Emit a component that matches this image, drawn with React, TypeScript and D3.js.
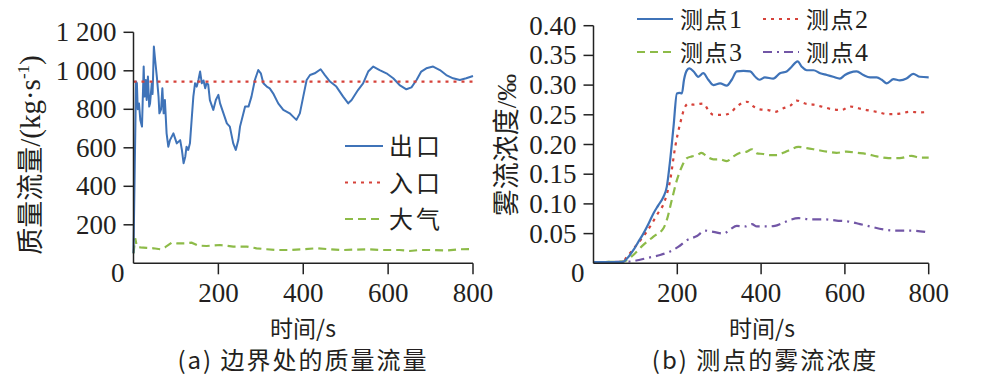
import React, { useEffect, useRef } from "react";
import * as d3 from "d3";

// (a) mass flow at the boundaries
const outletTime = [0, 3, 6, 8, 10, 13, 16, 20, 24, 26, 29, 31, 34, 37, 39, 43, 45, 48, 51, 55, 59, 61, 65, 68, 71, 74, 78, 82, 86, 94, 102, 110, 114, 118, 122, 125, 129, 133, 137, 141, 145, 149, 153, 157, 161, 165, 169, 172, 176, 180, 188, 194, 200, 204, 212, 220, 227, 235, 241, 247, 251, 259, 263, 271, 278, 286, 294, 300, 306, 314, 321, 329, 341, 353, 368, 376, 384, 392, 400, 408, 416, 427, 441, 451, 463, 478, 494, 506, 514, 529, 541, 553, 565, 580, 596, 612, 627, 643, 655, 667, 678, 690, 706, 722, 737, 753, 769, 784, 800];
const outletFlow = [52, 502, 944, 935, 800, 830, 745, 710, 1022, 866, 952, 848, 970, 814, 830, 935, 880, 1126, 1056, 970, 866, 779, 800, 909, 779, 848, 675, 606, 640, 675, 623, 640, 589, 520, 554, 606, 589, 623, 745, 866, 935, 918, 952, 996, 935, 950, 909, 935, 930, 848, 797, 848, 875, 831, 779, 727, 710, 623, 589, 640, 710, 779, 814, 814, 866, 952, 1004, 987, 935, 918, 909, 883, 831, 797, 779, 762, 745, 779, 866, 952, 978, 987, 1008, 978, 944, 918, 866, 831, 848, 900, 935, 996, 1022, 1004, 987, 961, 926, 904, 914, 952, 996, 1013, 1022, 1004, 978, 961, 952, 961, 973];
const inletTime = [0, 800];
const inletFlow = [944, 944];
const airTime = [0, 4, 8, 16, 31, 47, 63, 74, 90, 102, 122, 137, 153, 172, 204, 235, 267, 290, 314, 337, 368, 400, 431, 463, 494, 549, 588, 627, 651, 674, 706, 737, 769, 800];
const airFlow = [52, 130, 87, 83, 80, 78, 73, 83, 107, 104, 104, 107, 92, 90, 95, 87, 87, 78, 73, 69, 69, 73, 78, 73, 69, 73, 69, 69, 64, 69, 69, 66, 73, 74];

// (b) spray concentration at the measuring points
const p1Time = [0, 68, 80, 95, 107, 119, 131, 143, 155, 167, 175, 183, 191, 199, 205, 211, 216, 223, 229, 239, 250, 262, 274, 286, 302, 318, 330, 342, 358, 374, 386, 396, 409, 429, 445, 461, 473, 487, 497, 509, 525, 541, 557, 572, 588, 600, 612, 628, 644, 660, 676, 688, 700, 716, 731, 747, 763, 779, 800];
const p1Conc = [0.002, 0.002, 0.008, 0.022, 0.036, 0.05, 0.066, 0.084, 0.098, 0.112, 0.129, 0.174, 0.23, 0.286, 0.287, 0.286, 0.309, 0.325, 0.328, 0.323, 0.314, 0.32, 0.309, 0.3, 0.303, 0.299, 0.309, 0.323, 0.324, 0.323, 0.314, 0.309, 0.313, 0.311, 0.32, 0.323, 0.331, 0.34, 0.331, 0.325, 0.325, 0.32, 0.317, 0.314, 0.311, 0.317, 0.321, 0.323, 0.317, 0.313, 0.313, 0.309, 0.303, 0.31, 0.308, 0.311, 0.319, 0.314, 0.313];
const p2Time = [0, 68, 80, 103, 127, 151, 171, 183, 195, 207, 219, 227, 239, 250, 262, 274, 286, 310, 326, 342, 366, 382, 397, 417, 433, 453, 469, 485, 505, 525, 549, 572, 592, 612, 632, 652, 676, 704, 731, 755, 779, 800];
const p2Conc = [0.002, 0.002, 0.011, 0.031, 0.053, 0.081, 0.107, 0.14, 0.196, 0.236, 0.264, 0.269, 0.267, 0.268, 0.269, 0.258, 0.25, 0.25, 0.253, 0.264, 0.272, 0.264, 0.259, 0.258, 0.255, 0.261, 0.265, 0.274, 0.269, 0.267, 0.263, 0.259, 0.258, 0.264, 0.261, 0.258, 0.255, 0.251, 0.252, 0.255, 0.254, 0.255];
const p3Time = [0, 72, 95, 119, 143, 167, 175, 187, 199, 211, 223, 235, 247, 258, 270, 286, 302, 318, 334, 350, 366, 378, 390, 405, 421, 437, 453, 469, 489, 509, 533, 557, 580, 604, 628, 652, 676, 704, 731, 759, 779, 800];
const p3Conc = [0.002, 0.003, 0.014, 0.031, 0.045, 0.059, 0.073, 0.107, 0.14, 0.163, 0.177, 0.18, 0.182, 0.186, 0.18, 0.175, 0.175, 0.172, 0.18, 0.186, 0.188, 0.192, 0.185, 0.184, 0.182, 0.182, 0.186, 0.191, 0.196, 0.194, 0.191, 0.188, 0.186, 0.188, 0.186, 0.184, 0.18, 0.177, 0.177, 0.181, 0.178, 0.178];
const p4Time = [0, 87, 111, 135, 159, 183, 203, 223, 247, 266, 286, 310, 326, 342, 362, 378, 390, 413, 433, 449, 469, 489, 517, 549, 580, 612, 636, 660, 692, 723, 755, 800];
const p4Conc = [0.002, 0.003, 0.006, 0.01, 0.014, 0.02, 0.028, 0.039, 0.046, 0.055, 0.053, 0.05, 0.057, 0.063, 0.062, 0.066, 0.062, 0.062, 0.063, 0.067, 0.073, 0.076, 0.074, 0.074, 0.072, 0.07, 0.066, 0.062, 0.057, 0.055, 0.055, 0.052];

const xTicks = [200, 400, 600, 800];
const flowTicks = [200, 400, 600, 800, 1000, 1200];
const flowTickLabels = ["200", "400", "600", "800", "1 000", "1 200"];
const concTicks = [0.05, 0.1, 0.15, 0.2, 0.25, 0.3, 0.35, 0.4];

const leftLegend = ["出口", "入口", "大气"];
const rightLegend = ["测点1", "测点2", "测点3", "测点4"];

const BLUE = "#3f73b8";
const RED = "#d6423a";
const GREEN = "#8dbb48";
const PURPLE = "#7256a6";
const SERIF = "Liberation Serif";
const CJK = "Noto Sans CJK SC";
const INK = "#231f20";

function zip(t: number[], v: number[]) {
  return t.map((d, i) => [d, v[i]] as [number, number]);
}

function drawAxes(g: any, x: any, y: any, ticks: number[], labels: string[]) {
  const [x0, x1] = x.range();
  const [y0, y1] = y.range();
  g.append("line").attr("x1", x0).attr("x2", x1).attr("y1", y0).attr("y2", y0)
    .attr("stroke", "#222").attr("stroke-width", 1.5);
  g.append("line").attr("x1", x0).attr("x2", x0).attr("y1", y0).attr("y2", y1)
    .attr("stroke", "#222").attr("stroke-width", 1.5);
  xTicks.forEach((t) => {
    g.append("line").attr("x1", x(t)).attr("x2", x(t)).attr("y1", y0).attr("y2", y0 + 11)
      .attr("stroke", "#222").attr("stroke-width", 1.5);
    g.append("text").attr("x", x(t)).attr("y", y0 + 39).attr("text-anchor", "middle")
      .style("font-family", SERIF).attr("font-size", 27).attr("fill", INK).text(t);
  });
  ticks.forEach((t, i) => {
    g.append("line").attr("x1", x0 - 10).attr("x2", x0).attr("y1", y(t)).attr("y2", y(t))
      .attr("stroke", "#222").attr("stroke-width", 1.5);
    g.append("text").attr("x", x0 - 17).attr("y", y(t) + 9).attr("text-anchor", "end")
      .style("font-family", SERIF).attr("font-size", 27).attr("fill", INK).text(labels[i]);
  });
  // origin label sits a bit below the axis
  g.append("text").attr("x", x0 - 9).attr("y", y0 + 19).attr("text-anchor", "end")
    .style("font-family", SERIF).attr("font-size", 27).attr("fill", INK).text("0");
}

function App() {
  const ref = useRef<SVGSVGElement>(null);

  useEffect(() => {
    const svg = d3.select(ref.current);
    svg.selectAll("*").remove();

    // ---- left panel ----
    const xa = d3.scaleLinear().domain([0, 800]).range([133.5, 473]);
    const ya = d3.scaleLinear().domain([0, 1200]).range([263.3, 32.3]);
    const ga = svg.append("g");
    const lineA = d3.line<[number, number]>().x((d) => xa(d[0])).y((d) => ya(d[1]));

    ga.append("path").datum(zip(airTime, airFlow)).attr("d", lineA)
      .attr("fill", "none").attr("stroke", GREEN).attr("stroke-width", 2.2).attr("stroke-dasharray", "8,5");
    ga.append("path").datum(zip(outletTime, outletFlow)).attr("d", lineA)
      .attr("fill", "none").attr("stroke", BLUE).attr("stroke-width", 2).attr("stroke-linejoin", "round");
    ga.append("path").datum(zip(inletTime, inletFlow)).attr("d", lineA)
      .attr("fill", "none").attr("stroke", RED).attr("stroke-width", 2.2).attr("stroke-dasharray", "3,5");

    drawAxes(ga, xa, ya, flowTicks, flowTickLabels);

    const ytA = ga.append("text").attr("transform", "translate(40,155) rotate(-90)")
      .attr("text-anchor", "middle").style("font-family", CJK).attr("font-size", 27).attr("fill", INK);
    ytA.append("tspan").text("质量流量");
    ytA.append("tspan").style("font-family", SERIF).attr("font-size", 29).text("/(kg·s");
    ytA.append("tspan").style("font-family", SERIF).attr("font-size", 17).attr("dy", -11).text("-1");
    ytA.append("tspan").style("font-family", SERIF).attr("font-size", 29).attr("dy", 11).text(")");

    const legA = [
      { c: BLUE, d: null },
      { c: RED, d: "3,5" },
      { c: GREEN, d: "8,5" },
    ];
    legA.forEach((l, i) => {
      const yy = 146 + i * 36.5;
      ga.append("line").attr("x1", 345).attr("x2", 383).attr("y1", yy).attr("y2", yy)
        .attr("stroke", l.c).attr("stroke-width", 2.2).attr("stroke-dasharray", l.d);
      ga.append("text").attr("x", 389).attr("y", yy + 9).style("font-family", CJK).attr("font-size", 24)
        .attr("letter-spacing", 3).attr("fill", INK).text(leftLegend[i]);
    });

    ga.append("text").attr("x", 303).attr("y", 337).attr("text-anchor", "middle").style("font-family", CJK)
      .attr("font-size", 23).attr("fill", INK).text("时间/s");
    ga.append("text").attr("x", 303).attr("y", 369).attr("text-anchor", "middle").style("font-family", CJK)
      .attr("font-size", 24).attr("letter-spacing", 2).attr("fill", INK).text("(a) 边界处的质量流量");

    // ---- right panel ----
    const xb = d3.scaleLinear().domain([0, 800]).range([593.5, 928.7]);
    const yb = d3.scaleLinear().domain([0, 0.4]).range([263.3, 25.7]);
    const gb = svg.append("g");
    const lineB = d3.line<[number, number]>().x((d) => xb(d[0])).y((d) => yb(d[1])).curve(d3.curveMonotoneX);

    const series = [
      { t: p4Time, v: p4Conc, c: PURPLE, d: "9,5,2,5" },
      { t: p3Time, v: p3Conc, c: GREEN, d: "8,5" },
      { t: p2Time, v: p2Conc, c: RED, d: "3,5" },
      { t: p1Time, v: p1Conc, c: BLUE, d: null },
    ];
    series.forEach((s) => {
      gb.append("path").datum(zip(s.t, s.v)).attr("d", lineB)
        .attr("fill", "none").attr("stroke", s.c).attr("stroke-width", 2.2).attr("stroke-dasharray", s.d);
    });

    drawAxes(gb, xb, yb, concTicks, concTicks.map((d) => d3.format(".2f")(d)));

    const ytB = gb.append("text").attr("transform", "translate(516,145) rotate(-90)")
      .attr("text-anchor", "middle").style("font-family", CJK).attr("font-size", 27).attr("fill", INK);
    ytB.append("tspan").text("雾流浓度");
    ytB.append("tspan").style("font-family", SERIF).text("/‰");

    const legB = [
      { c: BLUE, d: null, x: 637, y: 19 },
      { c: RED, d: "3,5", x: 763, y: 19 },
      { c: GREEN, d: "8,5", x: 637, y: 52 },
      { c: PURPLE, d: "9,5,2,5", x: 763, y: 52 },
    ];
    legB.forEach((l, i) => {
      gb.append("line").attr("x1", l.x).attr("x2", l.x + 36).attr("y1", l.y).attr("y2", l.y)
        .attr("stroke", l.c).attr("stroke-width", 2.2).attr("stroke-dasharray", l.d);
      const tx = gb.append("text").attr("x", l.x + 43).attr("y", l.y + 9).style("font-family", CJK)
        .attr("font-size", 23).attr("letter-spacing", 1.5).attr("fill", INK);
      tx.append("tspan").text(rightLegend[i].slice(0, 2));
      tx.append("tspan").style("font-family", SERIF).attr("font-size", 26).text(rightLegend[i].slice(2));
    });

    gb.append("text").attr("x", 762).attr("y", 337).attr("text-anchor", "middle").style("font-family", CJK)
      .attr("font-size", 23).attr("fill", INK).text("时间/s");
    gb.append("text").attr("x", 765).attr("y", 369).attr("text-anchor", "middle").style("font-family", CJK)
      .attr("font-size", 24).attr("letter-spacing", 2).attr("fill", INK).text("(b) 测点的雾流浓度");
  }, []);

  return (
    <svg
      ref={ref}
      width={982}
      height={385}
      style={{ position: "absolute", left: 0, top: 0, background: "#fff" }}
    />
  );
}

export default App;
